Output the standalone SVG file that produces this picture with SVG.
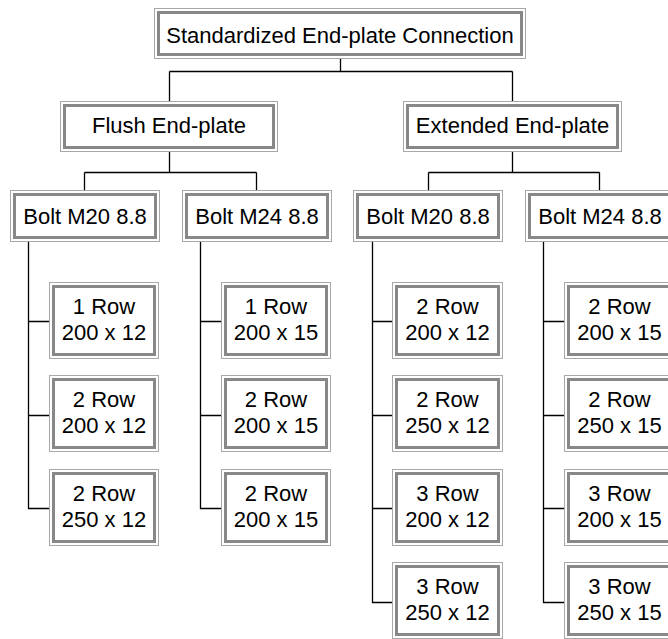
<svg xmlns="http://www.w3.org/2000/svg" width="668" height="639" viewBox="0 0 668 639">
<style>
.o{fill:#fff;stroke:#a8a8a8;stroke-width:1}
.i{fill:#fff;stroke:#888;stroke-width:3}
.t{font-family:"Liberation Sans",Arial,sans-serif;font-size:22px;fill:#000;text-anchor:middle}
.c{fill:none;stroke:#000;stroke-width:1.3}
</style>
<rect width="668" height="639" fill="#fff"/>
<g id="connectors">
<path class="c" d="M340.5 59V71.5M169.5 71.5H512.5M169.5 71.5V101M512.5 71.5V101"/>
<path class="c" d="M169.5 152V172.5M84.5 172.5H256.5M84.5 172.5V190M256.5 172.5V190"/>
<path class="c" d="M512.5 152V172.5M428.5 172.5H599.5M428.5 172.5V190M599.5 172.5V190"/>
<path class="c" d="M28.5 242V508.5H49M28.5 321.5H49M28.5 415.5H49"/>
<path class="c" d="M200.5 242V508.5H221M200.5 321.5H221M200.5 415.5H221"/>
<path class="c" d="M372.5 242V602.5H392M372.5 321.5H392M372.5 415.5H392M372.5 508.5H392"/>
<path class="c" d="M543.5 242V602.5H564M543.5 321.5H564M543.5 415.5H564M543.5 508.5H564"/>
</g>
<g id="root"><rect class="o" x="154.5" y="8.5" width="371" height="50"/><rect class="i" x="158.5" y="12.5" width="363" height="42"/><text class="t" x="340" y="43">Standardized End-plate Connection</text></g>
<g id="flush"><rect class="o" x="60.5" y="101.5" width="217" height="50"/><rect class="i" x="64.5" y="105.5" width="209" height="42"/><text class="t" x="169" y="133">Flush End-plate</text></g>
<g id="extended"><rect class="o" x="403.5" y="101.5" width="218" height="50"/><rect class="i" x="407.5" y="105.5" width="210" height="42"/><text class="t" x="512.5" y="133">Extended End-plate</text></g>
<g id="f-m20"><rect class="o" x="10.5" y="190.5" width="149" height="51"/><rect class="i" x="14.5" y="194.5" width="141" height="43"/><text class="t" x="85" y="224">Bolt M20 8.8</text></g>
<g id="f-m24"><rect class="o" x="182.5" y="190.5" width="149" height="51"/><rect class="i" x="186.5" y="194.5" width="141" height="43"/><text class="t" x="257" y="224">Bolt M24 8.8</text></g>
<g id="e-m20"><rect class="o" x="353.5" y="190.5" width="149" height="51"/><rect class="i" x="357.5" y="194.5" width="141" height="43"/><text class="t" x="428" y="224">Bolt M20 8.8</text></g>
<g id="e-m24"><rect class="o" x="525.5" y="190.5" width="149" height="51"/><rect class="i" x="529.5" y="194.5" width="141" height="43"/><text class="t" x="600" y="224">Bolt M24 8.8</text></g>
<g id="f20-1"><rect class="o" x="49.5" y="282.5" width="109" height="76"/><rect class="i" x="53.5" y="286.5" width="101" height="68"/><text class="t" x="104" y="314">1 Row</text><text class="t" x="104" y="340">200 x 12</text></g>
<g id="f20-2"><rect class="o" x="49.5" y="375.5" width="109" height="76"/><rect class="i" x="53.5" y="379.5" width="101" height="68"/><text class="t" x="104" y="407">2 Row</text><text class="t" x="104" y="433">200 x 12</text></g>
<g id="f20-3"><rect class="o" x="49.5" y="469.5" width="109" height="76"/><rect class="i" x="53.5" y="473.5" width="101" height="68"/><text class="t" x="104" y="501">2 Row</text><text class="t" x="104" y="527">250 x 12</text></g>
<g id="f24-1"><rect class="o" x="221.5" y="282.5" width="109" height="76"/><rect class="i" x="225.5" y="286.5" width="101" height="68"/><text class="t" x="276" y="314">1 Row</text><text class="t" x="276" y="340">200 x 15</text></g>
<g id="f24-2"><rect class="o" x="221.5" y="375.5" width="109" height="76"/><rect class="i" x="225.5" y="379.5" width="101" height="68"/><text class="t" x="276" y="407">2 Row</text><text class="t" x="276" y="433">200 x 15</text></g>
<g id="f24-3"><rect class="o" x="221.5" y="469.5" width="109" height="76"/><rect class="i" x="225.5" y="473.5" width="101" height="68"/><text class="t" x="276" y="501">2 Row</text><text class="t" x="276" y="527">200 x 15</text></g>
<g id="e20-1"><rect class="o" x="392.5" y="282.5" width="110" height="76"/><rect class="i" x="396.5" y="286.5" width="102" height="68"/><text class="t" x="447.5" y="314">2 Row</text><text class="t" x="447.5" y="340">200 x 12</text></g>
<g id="e20-2"><rect class="o" x="392.5" y="375.5" width="110" height="76"/><rect class="i" x="396.5" y="379.5" width="102" height="68"/><text class="t" x="447.5" y="407">2 Row</text><text class="t" x="447.5" y="433">250 x 12</text></g>
<g id="e20-3"><rect class="o" x="392.5" y="469.5" width="110" height="76"/><rect class="i" x="396.5" y="473.5" width="102" height="68"/><text class="t" x="447.5" y="501">3 Row</text><text class="t" x="447.5" y="527">200 x 12</text></g>
<g id="e20-4"><rect class="o" x="392.5" y="562.5" width="110" height="76"/><rect class="i" x="396.5" y="566.5" width="102" height="68"/><text class="t" x="447.5" y="594">3 Row</text><text class="t" x="447.5" y="620">250 x 12</text></g>
<g id="e24-1"><rect class="o" x="564.5" y="282.5" width="110" height="76"/><rect class="i" x="568.5" y="286.5" width="102" height="68"/><text class="t" x="619.5" y="314">2 Row</text><text class="t" x="619.5" y="340">200 x 15</text></g>
<g id="e24-2"><rect class="o" x="564.5" y="375.5" width="110" height="76"/><rect class="i" x="568.5" y="379.5" width="102" height="68"/><text class="t" x="619.5" y="407">2 Row</text><text class="t" x="619.5" y="433">250 x 15</text></g>
<g id="e24-3"><rect class="o" x="564.5" y="469.5" width="110" height="76"/><rect class="i" x="568.5" y="473.5" width="102" height="68"/><text class="t" x="619.5" y="501">3 Row</text><text class="t" x="619.5" y="527">200 x 15</text></g>
<g id="e24-4"><rect class="o" x="564.5" y="562.5" width="110" height="76"/><rect class="i" x="568.5" y="566.5" width="102" height="68"/><text class="t" x="619.5" y="594">3 Row</text><text class="t" x="619.5" y="620">250 x 15</text></g>
</svg>
